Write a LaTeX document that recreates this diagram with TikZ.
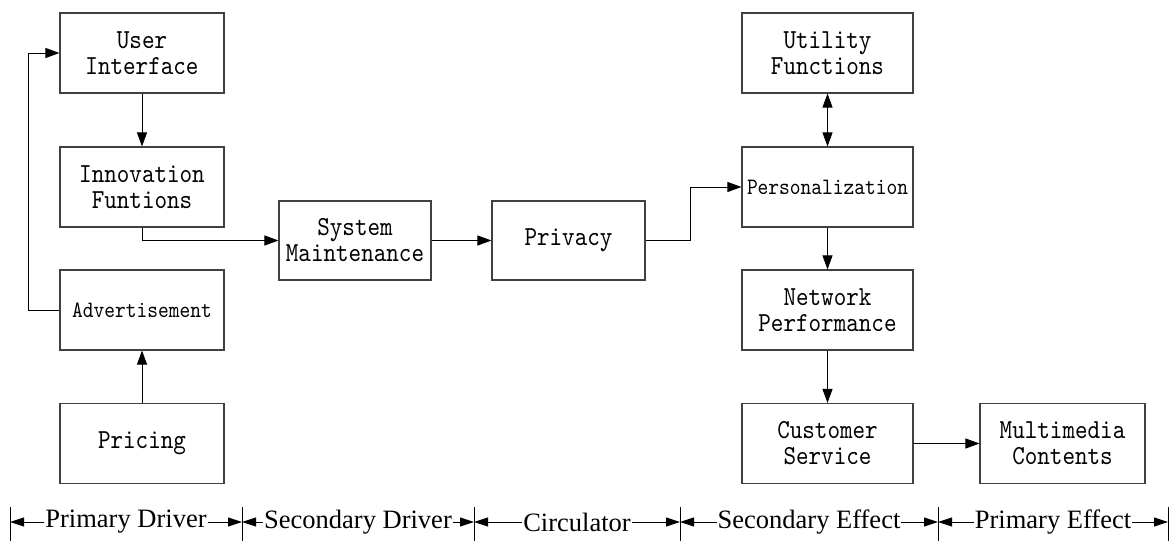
\documentclass[tikz,border=0pt]{standalone}
\usepackage{fontspec}
\setmainfont{Liberation Serif}
\newfontfamily\boxfont[FakeStretch=0.87]{lmmono10-regular.otf}
\usetikzlibrary{arrows.meta,calc}
\begin{document}
\begin{tikzpicture}[x=1pt,y=-1pt,
  box/.style={draw=black!75,line width=1.1pt,inner sep=0pt,minimum height=80pt,align=center,
              font=\boxfont\fontsize{27.5}{26}\selectfont},
  smalltext/.style={font=\boxfont\fontsize{23.5}{24}\selectfont},
  arr/.style={line width=0.9pt,-{Triangle[length=14pt,width=10pt]}},
  darr/.style={line width=0.9pt,{Triangle[length=14pt,width=10pt]}-{Triangle[length=14pt,width=10pt]}},
  tick/.style={line width=0.8pt},
  span/.style={line width=0.9pt,{Triangle[length=14pt,width=9pt]}-{Triangle[length=14pt,width=9pt]}},
  spanlabel/.style={fill=white,inner sep=1pt,font=\fontsize{26.5}{28}\selectfont}]
\useasboundingbox (0,0) rectangle (1176,545);

% blocks
\node[box,minimum width=164pt] (ui)  at (142,53)    {User\\Interface};
\node[box,minimum width=164pt] (inn) at (142,187)   {Innovation\\Funtions};
\node[box,smalltext,minimum width=164pt] (adv) at (142,310) {Advertisement};
\node[box,minimum width=164pt] (pri) at (142,443.5) {Pricing};
\node[box,minimum width=152pt,minimum height=79pt] (sm)  at (355,240.5) {System\\Maintenance};
\node[box,minimum width=153pt,minimum height=79pt] (prv) at (568.5,240.5) {Privacy};
\node[box,minimum width=171pt] (uf)  at (827.5,53)  {Utility\\Functions};
\node[box,smalltext,minimum width=171pt] (per) at (827.5,187) {Personalization};
\node[box,minimum width=171pt] (np)  at (827.5,310) {Network\\Performance};
\node[box,minimum width=171pt] (cs)  at (827.5,443.5) {Customer\\Service};
\node[box,minimum width=165pt] (mm)  at (1062.5,443.5) {Multimedia\\Contents};

% connectors
\draw[arr] (ui.south) -- (inn.north);
\draw[arr] (pri.north) -- (adv.south);
\draw[arr] (adv.west) -- ++(-31,0) |- (ui.west);
\draw[arr] (inn.south) |- (sm.west);
\draw[arr] (sm.east) -- (prv.west);
\draw[arr] (prv.east) -- ++(45,0) |- (per.west);
\draw[darr] (uf.south) -- (per.north);
\draw[arr] (per.south) -- (np.north);
\draw[arr] (np.south) -- (cs.north);
\draw[arr] (cs.east) -- (mm.west);

% stage scale
\foreach \i/\x in {0/10,1/242,2/474,3/680,4/938,5/1168}{
  \coordinate (t\i) at (\x,522);
  \draw[tick] (\x,507) -- (\x,541);
}
\draw[span] (t0) -- node[spanlabel] {Primary Driver} (t1);
\draw[span] (t1) -- node[spanlabel] {Secondary Driver} (t2);
\draw[span] (t2) -- node[spanlabel] {Circulator} (t3);
\draw[span] (t3) -- node[spanlabel] {Secondary Effect} (t4);
\draw[span] (t4) -- node[spanlabel] {Primary Effect} (t5);
\end{tikzpicture}
\end{document}
